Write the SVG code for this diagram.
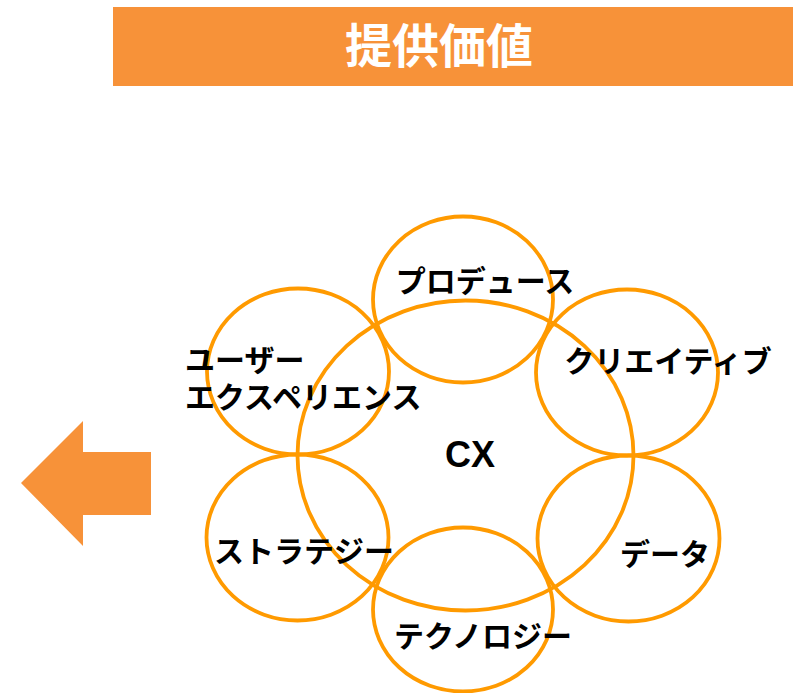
<svg xmlns="http://www.w3.org/2000/svg" width="793" height="693" viewBox="0 0 793 693">
<style>
.ring{fill:none;stroke:#FF9A00;stroke-width:3.8}
.lbl{font-family:"Noto Sans CJK JP","Noto Sans",sans-serif;font-weight:bold;font-size:30px;fill:#000}
.cx{font-family:"Liberation Sans",Arial,sans-serif;font-weight:bold;font-size:36px;fill:#000}
.title{font-family:"Noto Sans CJK JP",sans-serif;font-weight:bold;font-size:47px;fill:#fff}
</style>
<rect width="793" height="693" fill="#fff"/>
<g id="header">
<rect x="113" y="7" width="680" height="79" fill="#F79239"/>
<text class="title" x="439" y="63" text-anchor="middle">提供価値</text>
</g>
<g id="arrow">
<polygon points="21,483 83,421 83,452 151,452 151,515 83,515 83,546" fill="#F79239"/>
</g>
<g id="cx">
<ellipse class="ring" cx="465.5" cy="455.5" rx="168" ry="155"/>
<text class="cx" x="470" y="467" text-anchor="middle">CX</text>
</g>
<g id="produce">
<ellipse class="ring" cx="463" cy="299.5" rx="90" ry="83"/>
<text class="lbl" x="485" y="292" text-anchor="middle">プロデュース</text>
</g>
<g id="creative">
<ellipse class="ring" cx="627" cy="372.5" rx="91" ry="83"/>
<text class="lbl" x="668" y="372" text-anchor="middle">クリエイティブ</text>
</g>
<g id="ux">
<ellipse class="ring" cx="298" cy="371.5" rx="91" ry="83"/>
<text class="lbl" x="185" y="371">ユーザー<tspan x="185" dy="37">エクスペリエンス</tspan></text>
</g>
<g id="strategy">
<ellipse class="ring" cx="297.5" cy="537.5" rx="91" ry="83"/>
<text class="lbl" x="304" y="562" text-anchor="middle">ストラテジー</text>
</g>
<g id="data">
<ellipse class="ring" cx="628.5" cy="538.5" rx="91" ry="83"/>
<text class="lbl" x="665" y="565" text-anchor="middle">データ</text>
</g>
<g id="technology">
<ellipse class="ring" cx="463" cy="609.5" rx="90" ry="82"/>
<text class="lbl" x="483" y="647" text-anchor="middle">テクノロジー</text>
</g>
<g id="connectors"></g>
</svg>
